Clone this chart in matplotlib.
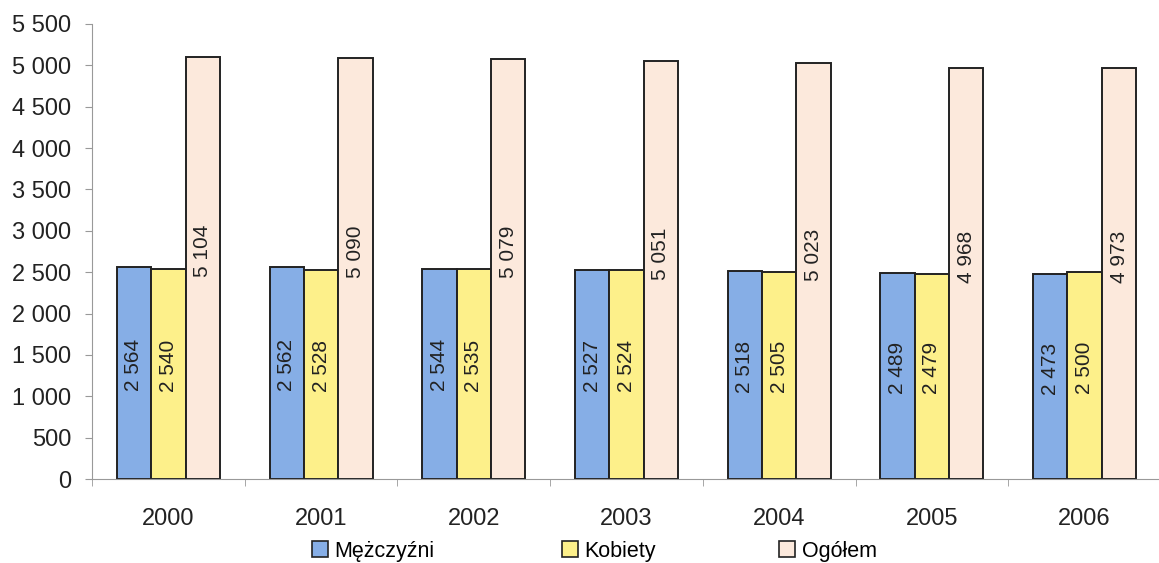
import matplotlib
matplotlib.use('Agg')
import matplotlib.pyplot as plt
from matplotlib.patches import Patch
from matplotlib.ticker import FuncFormatter, MultipleLocator
import numpy as np

plt.rcParams['font.family'] = ['Liberation Sans', 'DejaVu Sans']

years = ['2000', '2001', '2002', '2003', '2004', '2005', '2006']
mezczyzni = [2564, 2562, 2544, 2527, 2518, 2489, 2473]
kobiety = [2540, 2528, 2535, 2524, 2505, 2479, 2500]
ogolem = [5104, 5090, 5079, 5051, 5023, 4968, 4973]

series = [('Mężczyźni', mezczyzni, '#86aee6'),
          ('Kobiety', kobiety, '#fdf08a'),
          ('Ogółem', ogolem, '#fce9dc')]


def spaced(v):
    return f'{int(v):,}'.replace(',', ' ')


fig = plt.figure(figsize=(11.59, 5.63), dpi=100)
ax = fig.add_axes([92/1159, 1-479/563, 1069/1159, (479-24)/563])

x = np.arange(len(years))
w = 0.225
for i, (name, vals, col) in enumerate(series):
    pos = x + (i-1)*w
    ax.bar(pos, vals, w, color=col, edgecolor='#222222', linewidth=1.4, zorder=2)
    for p, v in zip(pos, vals):
        ax.text(p, v*0.54, spaced(v), rotation=90, ha='center', va='center',
                fontsize=15, color='#222222', zorder=3)

ax.set_xlim(-0.5, len(years)-0.5)
ax.set_ylim(0, 5500)
ax.yaxis.set_major_locator(MultipleLocator(500))
ax.yaxis.set_major_formatter(FuncFormatter(lambda v, p: spaced(v)))
ax.set_xticks(x)
ax.set_xticklabels(years)
ax.set_xticks(np.arange(len(years)+1)-0.5, minor=True)
ax.tick_params(axis='x', which='major', length=0, pad=21, labelsize=17, colors='#222222')
ax.tick_params(axis='x', which='minor', length=5, color='#999999')
ax.tick_params(axis='y', length=5, pad=10, labelsize=17, color='#999999', labelcolor='#222222')

for s in ['top', 'right']:
    ax.spines[s].set_visible(False)
ax.spines['left'].set_color('#999999')
ax.spines['bottom'].set_color('#999999')

# legend entries placed separately, as in the original
leg_x = [312/1159, 562/1159, 779/1159]
for (name, vals, col), lx in zip(series, leg_x):
    h = Patch(facecolor=col, edgecolor='#222222', linewidth=1.2)
    fig.legend([h], [name], loc='center left', bbox_to_anchor=(lx, 1-551/563),
               frameon=False, fontsize=15.5, handlelength=0.75, handleheight=0.75,
               handletextpad=0.3, borderaxespad=0, borderpad=0)

fig.savefig('out.png', dpi=100)
